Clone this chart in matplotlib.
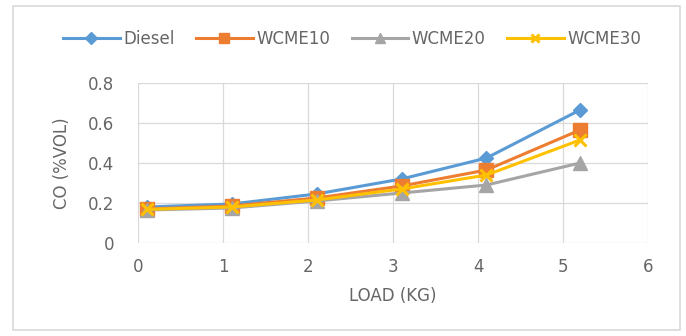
import matplotlib
matplotlib.use("Agg")
import matplotlib.pyplot as plt
from matplotlib.patches import Rectangle

plt.rcParams['font.family'] = ['DejaVu Sans']

load = [0.1, 1.1, 2.1, 3.1, 4.1, 5.2]
diesel = [0.18, 0.195, 0.245, 0.32, 0.425, 0.665]
wcme10 = [0.17, 0.185, 0.225, 0.285, 0.365, 0.565]
wcme20 = [0.165, 0.175, 0.21, 0.25, 0.29, 0.40]
wcme30 = [0.168, 0.18, 0.215, 0.27, 0.34, 0.515]

series_names = ["Diesel", "WCME10", "WCME20", "WCME30"]
x_ticks = [0, 1, 2, 3, 4, 5, 6]
y_ticks = [0, 0.2, 0.4, 0.6, 0.8]
y_tick_labels = ["0", "0.2", "0.4", "0.6", "0.8"]

W, H = 686, 336
fig = plt.figure(figsize=(W / 100, H / 100), dpi=100)
fig.patch.set_facecolor("white")

# outer chart frame
fig.patches.append(Rectangle((13 / W, 6 / H), (680 - 13) / W, (330 - 6) / H,
                             transform=fig.transFigure, fill=False,
                             edgecolor="#d9d9d9", linewidth=1.2))

ax = fig.add_axes([138 / W, 1 - 243 / H, (648 - 138) / W, (243 - 83) / H])

text_col = "#666666"
fs = 12
styles = [
    dict(color="#5B9BD5", marker="D", ms=7.5),
    dict(color="#ED7D31", marker="s", ms=9.5),
    dict(color="#A5A5A5", marker="^", ms=9.5),
    dict(color="#FFC000", marker="x", ms=8, mew=2.2),
]
for vals, name, st in zip([diesel, wcme10, wcme20, wcme30], series_names, styles):
    ax.plot(load, vals, color=st["color"], marker=st["marker"], ms=st["ms"],
            mew=st.get("mew", 1), mfc=st["color"], mec=st["color"],
            lw=2.2, label=name, zorder=3)

ax.set_xlim(0, 6)
ax.set_ylim(0, 0.8)
ax.set_xticks(x_ticks)
ax.set_yticks(y_ticks)
ax.set_yticklabels(y_tick_labels)
ax.grid(True, color="#d9d9d9", linewidth=0.9)
ax.set_axisbelow(True)
for s in ax.spines.values():
    s.set_visible(False)
ax.tick_params(length=0, labelsize=fs, colors=text_col)
ax.tick_params(axis="x", pad=11)
ax.tick_params(axis="y", pad=17)
ax.set_xlabel("LOAD (KG)", fontsize=fs, color=text_col, labelpad=8)
ax.set_ylabel("CO (%VOL)", fontsize=fs, color=text_col, labelpad=12)

ax.legend(loc="center", bbox_to_anchor=(352 / W, 1 - 39 / H),
          bbox_transform=fig.transFigure, ncol=4, frameon=False,
          fontsize=fs, labelcolor=text_col, handlelength=3.4,
          handletextpad=0.2, columnspacing=1.3, markerscale=0.75)

fig.savefig("out.png", dpi=100, facecolor="white")
